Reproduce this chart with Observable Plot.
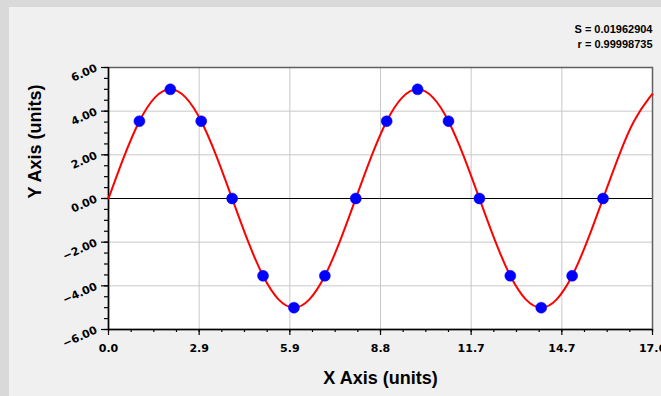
<!DOCTYPE html>
<html>
<head>
<meta charset="utf-8">
<script src="https://cdn.jsdelivr.net/npm/d3@7"></script>
<script src="https://cdn.jsdelivr.net/npm/@observablehq/plot@0.6"></script>
<style>
  html, body { margin: 0; padding: 0; }
  body { width: 661px; height: 396px; background: #d9d9d9; position: relative; overflow: hidden; font-family: "Liberation Sans", Arial, sans-serif; }
  #panel { position: absolute; left: 9px; top: 7px; right: 0; bottom: 0; background: #f0f0f0; }
  #chart { position: absolute; left: 0; top: 0; }
  #chart svg { background: transparent; }
</style>
</head>
<body>
<div id="panel"></div>
<div id="chart"></div>
<script>
// Measured points
const pointX = [1, 2, 3, 4, 5, 6, 7, 8, 9, 10, 11, 12, 13, 14, 15, 16];
const pointY = [3.54, 5.0, 3.54, 0.0, -3.54, -5.0, -3.54, 0.0, 3.54, 5.0, 3.54, 0.0, -3.54, -5.0, -3.54, 0.0];

// Fitted curve
const curveX = [0, 0.5, 1, 1.5, 2, 2.5, 3, 3.5, 4, 4.5, 5, 5.5, 6, 6.5, 7, 7.5, 8, 8.5, 9, 9.5, 10, 10.5, 11, 11.5, 12, 12.5, 13, 13.5, 14, 14.5, 15, 15.5, 16, 16.5, 17, 17.5, 17.6];
const curveY = [0, 1.91, 3.54, 4.62, 5.0, 4.62, 3.54, 1.91, 0, -1.91, -3.54, -4.62, -5.0, -4.62, -3.54, -1.91, 0, 1.91, 3.54, 4.62, 5.0, 4.62, 3.54, 1.91, 0, -1.91, -3.54, -4.62, -5.0, -4.62, -3.54, -1.91, 0, 1.91, 3.54, 4.62, 4.76];

// Tick labels
const xTicks = [0, 2.933, 5.867, 8.8, 11.733, 14.667, 17.6];
const yTicks = [-6, -4, -2, 0, 2, 4, 6];
const xTitle = "X Axis (units)";
const yTitle = "Y Axis (units)";
const stats = ["S = 0.01962904", "r = 0.99998735"];

const points = pointX.map((x, i) => ({x, y: pointY[i]}));
const curve = curveX.map((x, i) => ({x, y: curveY[i]}));
const xMinor = d3.range(0, 17.6 + 1e-6, 17.6 / 24);
const yMinor = d3.range(-6, 6 + 1e-6, 0.5);

const font = "Liberation Sans, Arial, sans-serif";
const tickFont = "DejaVu Sans, Verdana, sans-serif";
const fx = d3.format(".1f");
const fy = d3.format(".2f");

const chart = Plot.plot({
  width: 661,
  height: 396,
  marginLeft: 108,
  marginRight: 9,
  marginTop: 67,
  marginBottom: 67,
  style: {fontFamily: font, fontSize: "12px", background: "transparent", overflow: "visible"},
  x: {domain: [0, 17.6]},
  y: {domain: [-6, 6]},
  marks: [
    Plot.frame({fill: "white"}),
    Plot.gridX(xTicks.slice(1, -1), {stroke: "#c8c8c8", strokeOpacity: 1}),
    Plot.gridY(yTicks.filter(d => d !== 0 && Math.abs(d) !== 6), {stroke: "#c8c8c8", strokeOpacity: 1}),
    Plot.frame({stroke: "#606060", strokeWidth: 1.5}),
    Plot.ruleY([0], {stroke: "black", strokeWidth: 1}),
    Plot.ruleX([0], {stroke: "black", strokeWidth: 1.5}),
    Plot.ruleY([-6], {stroke: "black", strokeWidth: 1.5}),
    Plot.line(curve, {x: "x", y: "y", stroke: "#ff0000", strokeWidth: 2, curve: "natural"}),
    Plot.dot(points, {x: "x", y: "y", r: 5.5, fill: "#0000ff", stroke: "#0000ff", strokeWidth: 0.5}),
    Plot.axisX(xMinor, {tickSize: 3, tickFormat: () => "", stroke: "black", strokeWidth: 1.2, label: null}),
    Plot.axisX(xTicks, {tickSize: 6, tickFormat: () => "", stroke: "black", strokeWidth: 1.2, label: null}),
    Plot.axisY(yMinor, {tickSize: 4, tickFormat: () => "", stroke: "black", strokeWidth: 1.2, label: null}),
    Plot.axisY(yTicks, {tickSize: 7, tickFormat: () => "", stroke: "black", strokeWidth: 1.2, label: null}),
    Plot.text(xTicks, {x: d => d, text: d => fx(d), frameAnchor: "bottom", dy: 19, lineAnchor: "middle", fontFamily: tickFont, fontSize: 11, fontWeight: "bold", fill: "black"}),
    Plot.text(yTicks, {y: d => d, text: d => fy(d), frameAnchor: "left", dx: -12, rotate: -24, textAnchor: "end", lineAnchor: "middle", fontFamily: tickFont, fontSize: 11, fontWeight: "bold", fill: "black"}),
    Plot.text([xTitle], {frameAnchor: "bottom", dy: 49, lineAnchor: "middle", fontSize: 18, fontWeight: "bold", fill: "black"}),
    Plot.text([yTitle], {frameAnchor: "left", dx: -73, rotate: -90, lineAnchor: "middle", fontSize: 18, fontWeight: "bold", fill: "black"}),
    Plot.text([stats[0]], {frameAnchor: "top-right", textAnchor: "end", dy: -38, lineAnchor: "middle", fontSize: 11, fontWeight: "bold", fill: "black"}),
    Plot.text([stats[1]], {frameAnchor: "top-right", textAnchor: "end", dy: -23, lineAnchor: "middle", fontSize: 11, fontWeight: "bold", fill: "black"})
  ]
});
document.getElementById("chart").appendChild(chart);
</script>
</body>
</html>
